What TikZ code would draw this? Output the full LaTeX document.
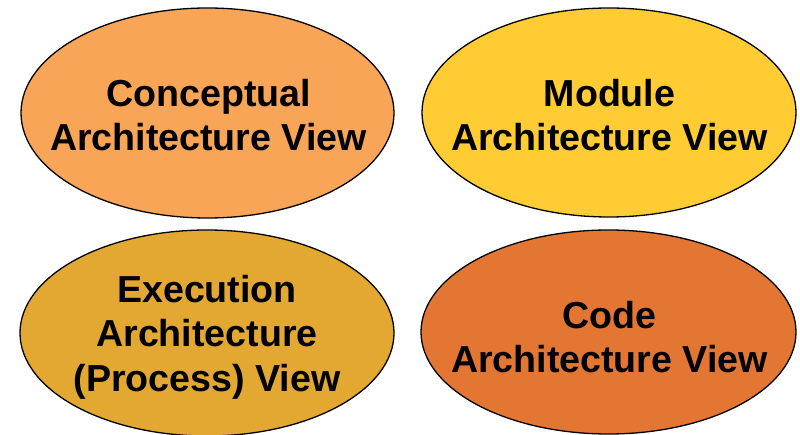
\documentclass[tikz,border=0pt]{standalone}
\usepackage{fontspec}
\setmainfont{Liberation Sans}
\usetikzlibrary{shapes.geometric}
\definecolor{cOne}{RGB}{249,165,88}
\definecolor{cTwo}{RGB}{255,204,51}
\definecolor{cThree}{RGB}{226,168,50}
\definecolor{cFour}{RGB}{228,118,52}
\begin{document}
\begin{tikzpicture}[x=1pt,y=-1pt,
  view/.style={ellipse, draw=black, line width=1.3pt, inner sep=0pt},
  lbl/.style={align=center, font=\fontsize{37.6}{44.5}\selectfont\bfseries, inner sep=0pt}]
\useasboundingbox (0,0) rectangle (800,435);
\clip (0,0) rectangle (800,435);
\node[view, fill=cOne, minimum width=373pt, minimum height=210pt] (cav) at (207.5,113) {};
\node[view, fill=cTwo, minimum width=374pt, minimum height=209pt] (mav) at (609,112.5) {};
\node[view, fill=cThree, minimum width=374pt, minimum height=206pt] (eav) at (207,333) {};
\node[view, fill=cFour, minimum width=375pt, minimum height=204pt] (kav) at (608.5,332) {};
\node[lbl] (cavt) at (208.5,115) {Conceptual\\Architecture View};
\node[lbl] (mavt) at (609.5,115) {Module\\Architecture View};
\node[lbl] (eavt) at (207,337) {Execution\\Architecture\\(Process) View};
\node[lbl] (kavt) at (609.5,337) {Code\\Architecture View};
\end{tikzpicture}
\end{document}
